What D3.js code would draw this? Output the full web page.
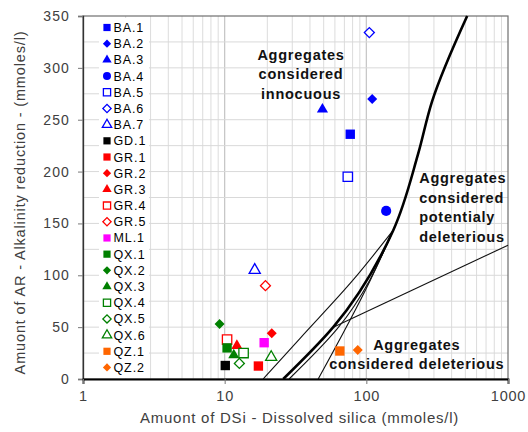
<!DOCTYPE html>
<html>
<head>
<meta charset="utf-8">
<script src="https://cdn.jsdelivr.net/npm/d3@7"></script>
<style>
  body { margin: 0; background: #fff; }
  text { font-family: "Liberation Sans", Arial, sans-serif; }
</style>
</head>
<body>
<div id="chart"></div>
<script>
// samples, as listed in the legend
var samples = ["BA.1", "BA.2", "BA.3", "BA.4", "BA.5", "BA.6", "BA.7", "GD.1",
  "GR.1", "GR.2", "GR.3", "GR.4", "GR.5", "ML.1", "QX.1", "QX.2", "QX.3",
  "QX.4", "QX.5", "QX.6", "QZ.1", "QZ.2"];

// DSi (x) and AR (y), mmoles/l
var dsi = [77, 110, 49, 138, 74, 105, 16.3, 10.1, 17.3, 21.5, 12.2, 10.4, 19.4,
  19, 10.4, 9.2, 11.6, 13.6, 12.7, 21.3, 65, 87];
var ar = [236, 270, 260, 162, 195, 334, 105, 13, 12.5, 44, 32, 38, 90,
  35, 30, 53, 23, 25, 15, 21, 27, 28];

// boundary lines (DSi, AR)
var mainCurveX = [25.9, 58.4, 155, 232, 290, 515];
var mainCurveY = [0, 50, 143.5, 217, 267, 350];
var upperCurveX = [18.7, 34.2, 80.7, 155];
var upperCurveY = [0, 39.5, 95.5, 143.5];
var innerCurveX = [28.5, 62, 155];
var innerCurveY = [0, 48, 143.5];
var lowerLineX = [45.7, 106.9, 155];
var lowerLineY = [0, 95.5, 143.5];
var splitLineX = [58.4, 1000];
var splitLineY = [50, 129];

var xTickValues = [1, 10, 100, 1000];
var yTickValues = [0, 50, 100, 150, 200, 250, 300, 350];

var xTitle = "Amuont of DSi - Dissolved silica (mmoles/l)";
var yTitle = "Amuont of AR - Alkalinity reduction - (mmoles/l)";
var innocuousText = ["Aggregates", "considered", "innocuous"];
var potentialText = ["Aggregates", "considered", "potentialy", "deleterious"];
var deleteriousText = ["Aggregates", "considered deleterious"];

// marker styles per sample
var markerShape = ["square", "diamond", "triangle", "circle", "square", "diamond", "triangle",
  "square", "square", "diamond", "triangle", "square", "diamond", "square",
  "square", "diamond", "triangle", "square", "diamond", "triangle", "square", "diamond"];
var markerFilled = [1, 1, 1, 1, 0, 0, 0, 1, 1, 1, 1, 0, 0, 1, 1, 1, 1, 0, 0, 0, 1, 1];
var markerColor = ["#0000ff", "#0000ff", "#0000ff", "#0000ff", "#0000ff", "#0000ff", "#0000ff",
  "#000000", "#ff0000", "#ff0000", "#ff0000", "#ff0000", "#ff0000", "#ff00ff",
  "#008000", "#008000", "#008000", "#008000", "#008000", "#008000", "#ff6600", "#ff6600"];

var svgWidth = 528;
var svgHeight = 432;
var margin = { top: 16, right: 20, bottom: 53, left: 83 };
var chartWidth = svgWidth - margin.left - margin.right;
var chartHeight = svgHeight - margin.top - margin.bottom;

var svg = d3.select("#chart")
  .append("svg")
  .attr("width", svgWidth)
  .attr("height", svgHeight);

var g = svg.append("g")
  .attr("transform", "translate(" + margin.left + "," + margin.top + ")");

var x = d3.scaleLog().domain([1, 1000]).range([0, chartWidth]);
var y = d3.scaleLinear().domain([0, 350]).range([chartHeight, 0]);

// gridlines
var minorX = [];
[1, 10, 100].forEach(function (d) {
  for (var k = 2; k <= 9; k++) minorX.push(d * k);
});
g.selectAll(".vgrid")
  .data(minorX)
  .enter()
  .append("line")
  .attr("x1", function (d) { return x(d); })
  .attr("x2", function (d) { return x(d); })
  .attr("y1", 0)
  .attr("y2", chartHeight)
  .attr("stroke", "#dcdcdc")
  .attr("stroke-width", 1);
g.selectAll(".vmajor")
  .data([10, 100])
  .enter()
  .append("line")
  .attr("x1", function (d) { return x(d); })
  .attr("x2", function (d) { return x(d); })
  .attr("y1", 0)
  .attr("y2", chartHeight)
  .attr("stroke", "#c4c4c4")
  .attr("stroke-width", 1.2);
g.selectAll(".hgrid")
  .data(d3.range(25, 350, 25))
  .enter()
  .append("line")
  .attr("x1", 0)
  .attr("x2", chartWidth)
  .attr("y1", function (d) { return y(d); })
  .attr("y2", function (d) { return y(d); })
  .attr("stroke", "#d9d9d9")
  .attr("stroke-width", 1);

// plot frame
g.append("rect")
  .attr("width", chartWidth)
  .attr("height", chartHeight)
  .attr("fill", "none")
  .attr("stroke", "#6f6f6f")
  .attr("stroke-width", 1.2);

// boundary lines
var line = d3.line()
  .x(function (d) { return x(d[0]); })
  .y(function (d) { return y(d[1]); })
  .curve(d3.curveMonotoneY);

function pairs(xs, ys) {
  return xs.map(function (v, i) { return [v, ys[i]]; });
}

g.append("path").datum(pairs(upperCurveX, upperCurveY))
  .attr("d", line).attr("fill", "none").attr("stroke", "#111").attr("stroke-width", 1.1);
g.append("path").datum(pairs(innerCurveX, innerCurveY))
  .attr("d", line).attr("fill", "none").attr("stroke", "#111").attr("stroke-width", 1.1);
g.append("path").datum(pairs(lowerLineX, lowerLineY))
  .attr("d", line).attr("fill", "none").attr("stroke", "#111").attr("stroke-width", 1.1);
g.append("path").datum(pairs(splitLineX, splitLineY))
  .attr("d", line).attr("fill", "none").attr("stroke", "#111").attr("stroke-width", 1.1);
g.append("path").datum(pairs(mainCurveX, mainCurveY))
  .attr("d", line).attr("fill", "none").attr("stroke", "#000").attr("stroke-width", 2.6);

// axes
var yAxis = d3.axisLeft(y).tickValues(yTickValues).tickSize(5).tickPadding(8)
  .tickFormat(d3.format("d"));
var xAxis = d3.axisBottom(x).tickValues(xTickValues).tickSize(5).tickPadding(7)
  .tickFormat(d3.format("d"));

var yg = g.append("g").call(yAxis);
yg.select(".domain").attr("stroke", "#333").attr("stroke-width", 1.3);
yg.selectAll(".tick line").attr("stroke", "#777");
yg.selectAll("text").attr("font-size", 14).attr("letter-spacing", 1.1)
  .attr("fill", "#404040").attr("font-family", "Liberation Sans, Arial, sans-serif");

var xg = g.append("g").attr("transform", "translate(0," + chartHeight + ")").call(xAxis);
xg.select(".domain").attr("stroke", "#000").attr("stroke-width", 1.8);
xg.selectAll(".tick line").attr("stroke", "#777");
xg.selectAll("text").attr("font-size", 14.5).attr("letter-spacing", 0.8)
  .attr("fill", "#404040").attr("font-family", "Liberation Sans, Arial, sans-serif");

// axis titles
svg.append("text")
  .attr("x", margin.left + chartWidth / 2 + 4)
  .attr("y", 423)
  .attr("text-anchor", "middle")
  .attr("font-size", 15)
  .attr("letter-spacing", 0.75)
  .attr("fill", "#404040")
  .text(xTitle);
svg.append("text")
  .attr("transform", "translate(25," + (margin.top + chartHeight / 2 + 5) + ") rotate(-90)")
  .attr("text-anchor", "middle")
  .attr("font-size", 14.5)
  .attr("letter-spacing", 0.85)
  .attr("fill", "#404040")
  .text(yTitle);

// marker shapes
function markerPath(shape, big) {
  var sizes = big
    ? { square: 88, diamond: 50, triangle: 54, circle: 82 }
    : { square: 52, diamond: 34, triangle: 38, circle: 50 };
  var types = { square: d3.symbolSquare, diamond: d3.symbolSquare,
    triangle: d3.symbolTriangle, circle: d3.symbolCircle };
  return d3.symbol().type(types[shape]).size(sizes[shape])();
}

function drawMarker(sel, i, big) {
  var filled = markerFilled[i] === 1;
  sel.append("path")
    .attr("d", markerPath(markerShape[i], big))
    .attr("transform", markerShape[i] === "diamond" ? "rotate(45)" : null)
    .attr("fill", filled ? markerColor[i] : "#fff")
    .attr("stroke", markerColor[i])
    .attr("stroke-width", filled ? 0 : 1.3);
}

// legend (white box covers the grid)
var legend = svg.append("g");
legend.append("rect")
  .attr("x", 99).attr("y", 18)
  .attr("width", 50).attr("height", 360)
  .attr("fill", "#fff");

samples.forEach(function (name, i) {
  var row = legend.append("g")
    .attr("transform", "translate(107," + (27.5 + i * 16.19) + ")");
  drawMarker(row, i, false);
  row.append("text")
    .attr("x", 6.5)
    .attr("y", 4.5)
    .attr("font-size", 12.5)
    .attr("letter-spacing", 0.9)
    .attr("fill", "#000")
    .text(name);
});

// points
samples.forEach(function (name, i) {
  var pt = g.append("g")
    .attr("transform", "translate(" + x(dsi[i]) + "," + y(ar[i]) + ")");
  drawMarker(pt, i, true);
});

// region labels
function block(lines, px, py, anchor) {
  var t = g.append("text")
    .attr("text-anchor", anchor)
    .attr("font-size", 14.5)
    .attr("font-weight", "bold")
    .attr("letter-spacing", 0.75)
    .attr("fill", "#111");
  lines.forEach(function (s, k) {
    t.append("tspan").attr("x", px).attr("y", py + k * 19.4).text(s);
  });
}
block(innocuousText, x(34.6), y(307.5), "middle");
block(potentialText, x(236), y(188.5), "start");
block(deleteriousText, x(227), y(28), "middle");
</script>
</body>
</html>
